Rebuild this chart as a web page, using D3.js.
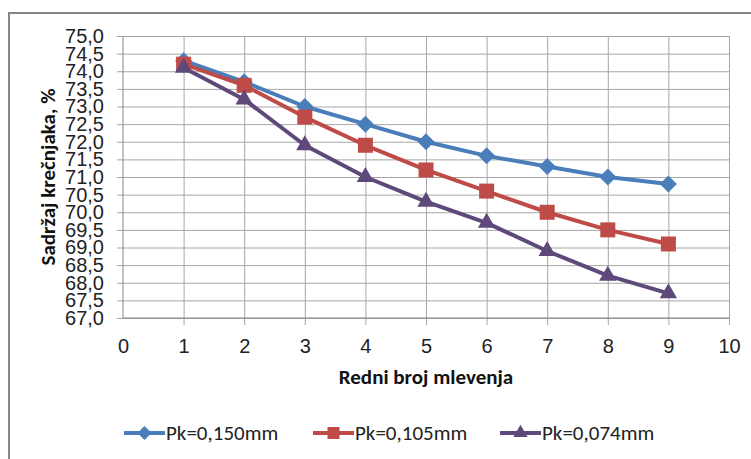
<!DOCTYPE html>
<html>
<head>
<meta charset="utf-8">
<script src="https://cdn.jsdelivr.net/npm/d3@7"></script>
<style>
  body { margin: 0; background: #fff; }
  svg { display: block; font-family: Carlito, Calibri, 'Open Sans', sans-serif; }
</style>
</head>
<body>
<svg id="chart" width="751" height="459"></svg>
<script>
(function() {
    'use strict';

    const mlevenje = [1, 2, 3, 4, 5, 6, 7, 8, 9];
    const pk150 = [74.3, 73.7, 73.0, 72.5, 72.0, 71.6, 71.3, 71.0, 70.8];
    const pk105 = [74.2, 73.6, 72.7, 71.9, 71.2, 70.6, 70.0, 69.5, 69.1];
    const pk074 = [74.1, 73.2, 71.9, 71.0, 70.3, 69.7, 68.9, 68.2, 67.7];
    const seriesNames = ['Pk=0,150mm', 'Pk=0,105mm', 'Pk=0,074mm'];
    const xTicks = d3.range(0, 11);
    const yTicks = d3.range(67, 75.01, 0.5);

    const series = [
        { name: seriesNames[0], values: pk150, color: '#4A7EBB', marker: 'diamond' },
        { name: seriesNames[1], values: pk105, color: '#BE4B48', marker: 'square' },
        { name: seriesNames[2], values: pk074, color: '#5E497A', marker: 'triangle' }
    ];

    const svg = d3.select('#chart');
    const margin = { top: 36, right: 22, bottom: 141, left: 123 };
    const width = 751 - margin.left - margin.right;
    const height = 459 - margin.top - margin.bottom;

    // outer chart frame (runs off the picture on the right and bottom)
    svg.append('rect')
        .attr('x', 9).attr('y', 13)
        .attr('width', 800).attr('height', 500)
        .attr('fill', '#fff')
        .attr('stroke', '#868686')
        .attr('stroke-width', 2);

    const g = svg.append('g')
        .attr('transform', `translate(${margin.left},${margin.top})`);

    const x = d3.scaleLinear().domain([0, 10]).range([0, width]);
    const y = d3.scaleLinear().domain([67, 75]).range([height, 0]);

    const fmt = v => d3.format('.1f')(v).replace('.', ',');

    // horizontal grid + y axis
    const yAxis = g.append('g')
        .attr('transform', 'translate(-6,0)')
        .call(d3.axisLeft(y).tickValues(yTicks).tickSize(-width - 6).tickFormat(fmt));
    yAxis.select('.domain').remove();
    yAxis.selectAll('.tick line')
        .attr('stroke', '#A6A6A6');
    yAxis.selectAll('.tick text')
        .attr('x', -13)
        .style('font-size', '20px')
        .attr('fill', '#222');

    // vertical grid + x axis
    const xAxis = g.append('g')
        .attr('transform', `translate(0,${height})`)
        .call(d3.axisBottom(x).tickValues(xTicks).tickSize(-height).tickPadding(21).tickFormat(d3.format('d')));
    xAxis.select('.domain').remove();
    xAxis.selectAll('.tick line')
        .attr('stroke', '#A6A6A6')
        .attr('y1', d => d === 0 ? 7 : -height)
        .attr('y2', 7);
    xAxis.selectAll('.tick text')
        .style('font-size', '20px')
        .attr('fill', '#222');

    // axis lines
    g.append('line')
        .attr('x1', 0).attr('x2', 0).attr('y1', 0).attr('y2', height)
        .attr('stroke', '#868686');
    g.append('line')
        .attr('x1', 0).attr('x2', width).attr('y1', height).attr('y2', height)
        .attr('stroke', '#868686');

    const markerPath = (type, s) => {
        if (type === 'diamond') return d3.symbol(d3.symbolSquare, s * s / 2)();
        if (type === 'square') return d3.symbol(d3.symbolSquare, s * s)();
        return d3.symbol(d3.symbolTriangle, s * s * 0.45)();
    };

    const line = d3.line()
        .x((d, i) => x(mlevenje[i]))
        .y(d => y(d));

    series.forEach(s => {
        g.append('path')
            .datum(s.values)
            .attr('d', line)
            .attr('fill', 'none')
            .attr('stroke', s.color)
            .attr('stroke-width', 4)
            .attr('stroke-linejoin', 'round');

        g.append('g')
            .selectAll('path')
            .data(s.values)
            .enter()
            .append('path')
            .attr('d', markerPath(s.marker, s.marker === 'square' ? 15 : 17))
            .attr('transform', (d, i) => `translate(${x(mlevenje[i])},${y(d)})` + (s.marker === 'diamond' ? ' rotate(45)' : ''))
            .attr('fill', s.color);
    });

    // axis titles
    svg.append('text')
        .attr('x', margin.left + width / 2)
        .attr('y', 384)
        .attr('text-anchor', 'middle')
        .style('font-size', '21px')
        .style('font-weight', 'bold')
        .attr('fill', '#111')
        .text('Redni broj mlevenja');

    svg.append('text')
        .attr('transform', `translate(55,${margin.top + height / 2}) rotate(-90)`)
        .attr('text-anchor', 'middle')
        .style('font-size', '21px')
        .style('font-weight', 'bold')
        .attr('fill', '#111')
        .text('Sadržaj krečnjaka, %');

    // legend
    const legendX = [124, 313, 500];
    const legend = svg.append('g')
        .selectAll('g')
        .data(series)
        .enter()
        .append('g')
        .attr('transform', (d, i) => `translate(${legendX[i]},433)`);

    legend.append('line')
        .attr('x1', 0).attr('x2', 41)
        .attr('stroke', d => d.color)
        .attr('stroke-width', 4);
    legend.append('path')
        .attr('d', d => markerPath(d.marker, d.marker === 'square' ? 12 : 14))
        .attr('transform', d => 'translate(20.5,0)' + (d.marker === 'diamond' ? ' rotate(45)' : ''))
        .attr('fill', d => d.color);
    legend.append('text')
        .attr('x', 42)
        .attr('dy', '0.35em')
        .style('font-size', '21px')
        .attr('fill', '#222')
        .text(d => d.name);
})();
</script>
</body>
</html>
